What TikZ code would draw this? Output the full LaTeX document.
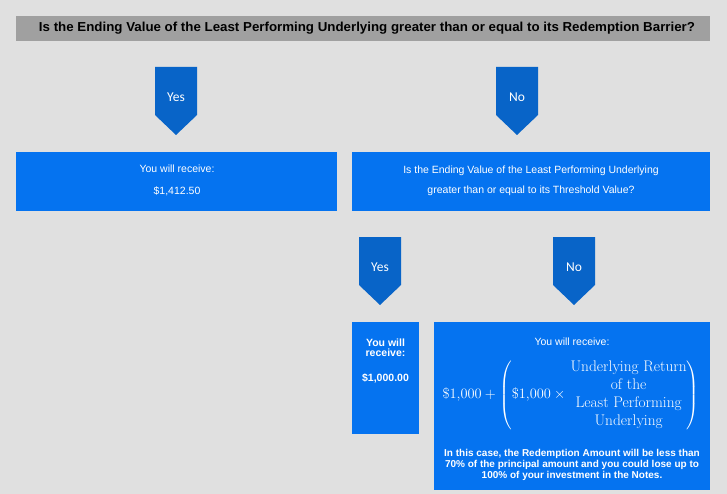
\documentclass[tikz,border=0pt]{standalone}
\usepackage{fontspec}
\usepackage{amsmath}
\usepackage{graphicx}
\newfontfamily\arialf{Liberation Sans}
\newfontfamily\calibrif{Carlito}
\definecolor{bgc}{RGB}{224,224,224}
\definecolor{barc}{RGB}{160,160,160}
\definecolor{chevc}{RGB}{8,100,200}
\definecolor{boxc}{RGB}{5,115,240}
\tikzset{
  titlebar/.style={fill=barc, draw=none, inner sep=0pt, anchor=north west},
  titletext/.style={text=black, font=\arialf\bfseries\fontsize{13}{14}\selectfont, inner sep=0pt},
  bluebox/.style={fill=boxc, draw=none, inner sep=0pt, anchor=north west},
  chevshape/.style={fill=chevc, draw=none},
  chevtext/.style={text=white, font=\calibrif\fontsize{13.5}{14}\selectfont, inner sep=0pt},
  linetext/.style={text=white, font=\arialf\fontsize{10.5}{12}\selectfont, inner sep=0pt, anchor=base},
  boldline/.style={text=white, font=\arialf\bfseries\fontsize{10.5}{12}\selectfont, inner sep=0pt, anchor=base},
  smallbold/.style={text=white, font=\arialf\bfseries\fontsize{10}{11}\selectfont, inner sep=0pt, anchor=base},
  formula/.style={text=white, font=\fontsize{15.4}{18}\selectfont, inner sep=0pt}
}
\newcommand\mychev[4]{%
  \fill[chevshape] (#2-21,#3) -- (#2+21,#3) -- (#2+21,#3+48) -- (#2,#3+68) -- (#2-21,#3+48) -- cycle;
  \node[chevtext] (#1) at (#2,#3+30) {#4};}
\begin{document}
\begin{tikzpicture}[x=1pt,y=-1pt]
\fill[bgc] (0,0) rectangle (727,494);
\useasboundingbox (0,0) rectangle (727,494);
% title
\node[titlebar, minimum width=694pt, minimum height=25pt] (q1) at (16,16) {};
\node[titletext] (q1t) at (367,28.5) {\resizebox{656pt}{\height}{Is the Ending Value of the Least Performing Underlying greater than or equal to its Redemption Barrier?}};
% chevrons
\mychev{c1}{176}{67}{Yes}
\mychev{c2}{517}{67}{No}
\mychev{c3}{380}{237}{Yes}
\mychev{c4}{574}{237}{No}
% boxes
\node[bluebox, minimum width=321pt, minimum height=59pt] (b1) at (16,152) {};
\node[bluebox, minimum width=358pt, minimum height=59pt] (b2) at (352,152) {};
\node[bluebox, minimum width=67pt, minimum height=112pt] (b3) at (352,322) {};
\node[bluebox, minimum width=276pt, minimum height=168pt] (b4) at (434,322) {};
% box 1
\node[linetext] (b1a) at (177,173) {You will receive:};
\node[linetext] (b1b) at (177,195) {\$1,412.50};
% box 2
\node[linetext] (b2a) at (531,174) {Is the Ending Value of the Least Performing Underlying};
\node[linetext] (b2b) at (531,194) {greater than or equal to its Threshold Value?};
% box 3
\node[boldline] (b3a) at (385.5,346) {You will};
\node[boldline] (b3b) at (385.5,356) {receive:};
\node[boldline] (b3c) at (385.5,381) {\$1,000.00};
% box 4
\node[linetext] (b4a) at (572,345) {You will receive:};
\node[formula] (b4f) at (571,395) {$\$1{,}000 + \left(\$1{,}000 \times \begin{array}{@{\hspace{2pt}}c@{}}\text{Underlying Return}\\ \text{of the}\\ \text{Least Performing}\\ \text{Underlying}\end{array}\right)$};
\node[smallbold] (b4b) at (572,456) {In this case, the Redemption Amount will be less than};
\node[smallbold] (b4c) at (572,467) {70\% of the principal amount and you could lose up to};
\node[smallbold] (b4d) at (572,478) {100\% of your investment in the Notes.};
\end{tikzpicture}
\end{document}
